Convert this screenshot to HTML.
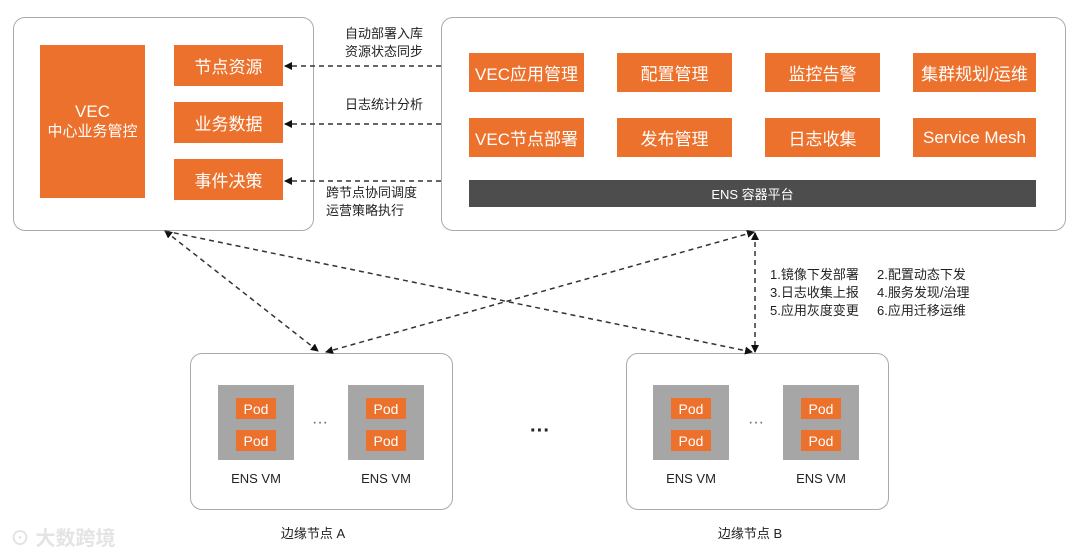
<!DOCTYPE html>
<html><head><meta charset="utf-8"><style>
*{margin:0;padding:0;box-sizing:border-box}
body{width:1080px;height:557px;background:#fff;position:relative;overflow:hidden;font-family:"Liberation Sans","Noto Sans CJK SC",sans-serif}
.b{position:absolute}
.box{border:1.5px solid #aaa;border-radius:12px;background:#fff}
.o{background:#ec712c;color:#fff;display:flex;align-items:center;justify-content:center;font-size:17px;text-align:center}
.vm{background:#a6a6a6}
.pod{background:#ec712c;color:#fff;font-size:14px;display:flex;align-items:center;justify-content:center;width:40px;height:21px}
.t{position:absolute;font-size:13px;color:#222;line-height:18px}
.lbl{position:absolute;font-size:13px;color:#222;text-align:center}
</style></head><body>
<div class="b box" style="left:13px;top:17px;width:301px;height:214px"></div>
<div class="b box" style="left:441px;top:17px;width:625px;height:214px"></div>
<div class="b o" style="left:40px;top:45px;width:105px;height:153px;flex-direction:column;font-size:15px;line-height:20px"><div style="font-size:17px">VEC</div><div>中心业务管控</div></div>
<div class="b o" style="left:174px;top:45px;width:109px;height:41px">节点资源</div>
<div class="b o" style="left:174px;top:102px;width:109px;height:41px">业务数据</div>
<div class="b o" style="left:174px;top:159px;width:109px;height:41px">事件决策</div>

<div class="b o" style="left:469px;top:53px;width:115px;height:39px">VEC应用管理</div>
<div class="b o" style="left:617px;top:53px;width:115px;height:39px">配置管理</div>
<div class="b o" style="left:765px;top:53px;width:115px;height:39px">监控告警</div>
<div class="b o" style="left:913px;top:53px;width:123px;height:39px">集群规划/运维</div>
<div class="b o" style="left:469px;top:118px;width:115px;height:39px">VEC节点部署</div>
<div class="b o" style="left:617px;top:118px;width:115px;height:39px">发布管理</div>
<div class="b o" style="left:765px;top:118px;width:115px;height:39px">日志收集</div>
<div class="b o" style="left:913px;top:118px;width:123px;height:39px">Service Mesh</div>
<div class="b" style="left:469px;top:180px;width:567px;height:27px;background:#4d4d4d;color:#fff;font-size:13px;display:flex;align-items:center;justify-content:center">ENS 容器平台</div>

<div class="t" style="left:334px;top:25px;text-align:center;width:100px">自动部署入库<br>资源状态同步</div>
<div class="t" style="left:334px;top:96px;text-align:center;width:100px">日志统计分析</div>
<div class="t" style="left:326px;top:184px;width:100px">跨节点协同调度<br>运营策略执行</div>
<div class="t" style="left:770px;top:266px">1.镜像下发部署<br>3.日志收集上报<br>5.应用灰度变更</div>
<div class="t" style="left:877px;top:266px">2.配置动态下发<br>4.服务发现/治理<br>6.应用迁移运维</div>

<div class="b box" style="left:190px;top:353px;width:263px;height:157px"></div>
<div class="b box" style="left:626px;top:353px;width:263px;height:157px"></div>

<div class="b vm" style="left:218px;top:385px;width:76px;height:75px"></div>
<div class="b vm" style="left:348px;top:385px;width:76px;height:75px"></div>
<div class="b vm" style="left:653px;top:385px;width:76px;height:75px"></div>
<div class="b vm" style="left:783px;top:385px;width:76px;height:75px"></div>
<div class="b pod" style="left:236px;top:398px">Pod</div><div class="b pod" style="left:236px;top:430px">Pod</div>
<div class="b pod" style="left:366px;top:398px">Pod</div><div class="b pod" style="left:366px;top:430px">Pod</div>
<div class="b pod" style="left:671px;top:398px">Pod</div><div class="b pod" style="left:671px;top:430px">Pod</div>
<div class="b pod" style="left:801px;top:398px">Pod</div><div class="b pod" style="left:801px;top:430px">Pod</div>
<div class="lbl" style="left:218px;top:471px;width:76px">ENS VM</div>
<div class="lbl" style="left:348px;top:471px;width:76px">ENS VM</div>
<div class="lbl" style="left:653px;top:471px;width:76px">ENS VM</div>
<div class="lbl" style="left:783px;top:471px;width:76px">ENS VM</div>
<div class="lbl" style="left:300px;top:414px;width:40px;color:#666;font-size:16px">···</div>
<div class="lbl" style="left:736px;top:414px;width:40px;color:#666;font-size:16px">···</div>
<div class="lbl" style="left:520px;top:420px;width:40px;font-size:20px;font-weight:bold">···</div>
<div class="lbl" style="left:263px;top:523px;width:100px">边缘节点 A</div>
<div class="lbl" style="left:700px;top:523px;width:100px">边缘节点 B</div>
<div class="lbl" style="left:10px;top:522px;width:140px;color:#e4e4e4;font-size:20px;font-weight:bold;text-align:left">⊙ 大数跨境</div>

<svg class="b" style="left:0;top:0" width="1080" height="557">
<defs><marker id="a" markerWidth="8" markerHeight="8" refX="7" refY="4" orient="auto-start-reverse" markerUnits="userSpaceOnUse"><path d="M0,0L8,4L0,8z" fill="#111"/></marker></defs>
<g stroke="#333" stroke-width="1.5" stroke-dasharray="5,4" fill="none">
<line x1="441" y1="66" x2="285" y2="66" marker-end="url(#a)"/>
<line x1="441" y1="124" x2="285" y2="124" marker-end="url(#a)"/>
<line x1="441" y1="181" x2="285" y2="181" marker-end="url(#a)"/>
<line x1="165" y1="231" x2="318" y2="351" marker-start="url(#a)" marker-end="url(#a)"/>
<line x1="165" y1="231" x2="752" y2="352" marker-end="url(#a)"/>
<line x1="754" y1="232" x2="326" y2="352" marker-start="url(#a)" marker-end="url(#a)"/>
<line x1="755" y1="233" x2="755" y2="352" marker-start="url(#a)" marker-end="url(#a)"/>
</g></svg>
</body></html>
